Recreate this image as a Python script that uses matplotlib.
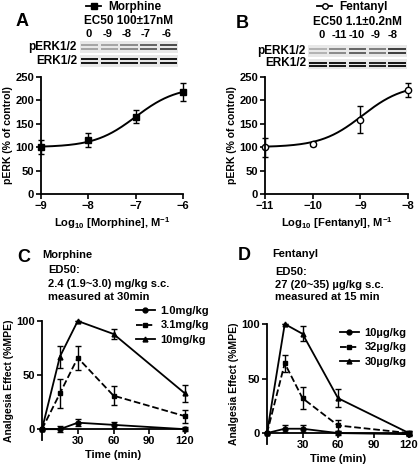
import numpy as np
import matplotlib.pyplot as plt
from matplotlib.lines import Line2D
from matplotlib.patches import Rectangle

plt.rcParams['font.family'] = ['Liberation Sans', 'DejaVu Sans']
plt.rcParams['font.weight'] = 'bold'
plt.rcParams['axes.labelweight'] = 'bold'
plt.rcParams['mathtext.fontset'] = 'custom'
plt.rcParams['mathtext.rm'] = 'Liberation Sans:bold'
plt.rcParams['mathtext.default'] = 'rm'

W, H = 420, 467

# --- panel A / B : pERK dose response ---
morph_logc = [-9, -8, -7, -6]
morph_perk = [100, 115, 165, 218]
morph_err = [15, 15, 14, 20]
morph_fit = (100, 230, -7.0)   # bottom, top, logEC50

fent_logc = [-11, -10, -9, -8]
fent_perk = [100, 106, 159, 222]
fent_err = [20, 4, 29, 15]
fent_fit = (100, 235, -8.96)

morph_lanes = ['0', '-9', '-8', '-7', '-6']
fent_lanes = ['0', '-11', '-10', '-9', '-8']
morph_pband = [0.35, 0.35, 0.45, 0.6, 0.7]
fent_pband = [0.3, 0.45, 0.6, 0.5, 0.75]
total_band = [0.9, 0.9, 0.9, 0.85, 0.9]

# --- panel C / D : analgesia time course ---
time_min = [0, 15, 30, 60, 120]
morph_doses = ['1.0mg/kg', '3.1mg/kg', '10mg/kg']
morph_mpe = [[0, 0, 6, 4, 0], [0, 33, 66, 31, 12], [0, 67, 100, 88, 33]]
morph_mpe_err = [[0, 3, 3, 3, 2], [0, 13, 11, 9, 6], [0, 10, 0, 5, 8]]
fent_doses = ['10µg/kg', '32µg/kg', '30µg/kg']
fent_mpe = [[0, 4, 4, 0, -1], [0, 64, 32, 7, 0], [0, 100, 91, 32, 0]]
fent_mpe_err = [[0, 3, 3, 2, 2], [0, 8, 10, 5, 2], [0, 0, 7, 8, 2]]

FS = 8


def px(x, y):
    return x / W, 1 - y / H


def rect(x0, y0, x1, y1):
    return [x0 / W, 1 - y1 / H, (x1 - x0) / W, (y1 - y0) / H]


def style_axes(ax):
    for s in ['top', 'right']:
        ax.spines[s].set_visible(False)
    for s in ['left', 'bottom']:
        ax.spines[s].set_linewidth(1.3)
    ax.tick_params(direction='out', length=3.5, width=1.2, labelsize=FS, pad=1.5)
    for t in ax.get_xticklabels() + ax.get_yticklabels():
        t.set_fontweight('bold')


def sigmoid(x, p):
    bottom, top, logec = p
    return bottom + (top - bottom) / (1 + 10 ** (logec - x))


def dose_panel(ax, logc, perk, err, fit, marker, mfc, drug):
    xs = np.linspace(logc[0], logc[-1], 200)
    ax.plot(xs, sigmoid(xs, fit), color='black', lw=1.4, clip_on=False)
    ax.errorbar(logc, perk, yerr=err, fmt=marker, color='black', mfc=mfc,
                ms=4.5, capsize=2.5, elinewidth=1, capthick=1, clip_on=False)
    ax.set_xlim(logc[0], logc[-1])
    ax.set_ylim(0, 250)
    ax.set_xticks(range(logc[0], logc[-1] + 1))
    ax.set_yticks([0, 50, 100, 150, 200, 250])
    ax.set_ylabel('pERK (% of control)', fontsize=FS - 0.5, labelpad=2)
    ax.set_xlabel('Log$_{10}$ [' + drug + '], M$^{-1}$', fontsize=FS, labelpad=3)
    style_axes(ax)


def blot(fig, box_p, box_t, pband):
    for (x0, y0, x1, y1), inten, thick, gap in [(box_p, pband, 1.3, 3.0),
                                               (box_t, total_band, 2.0, 3.0)]:
        bax = fig.add_axes(rect(x0, y0, x1, y1))
        bax.set_xlim(0, 5)
        bax.set_ylim(0, 10)
        bax.axis('off')
        bax.add_patch(Rectangle((0, 0), 5, 10, color='#e8e8e8', lw=0))
        for i, v in enumerate(inten):
            for yb in [5 + gap / 2, 5 - gap / 2]:
                bax.add_patch(Rectangle((i + 0.06, yb - thick / 2), 0.88, thick,
                                        color=str(1 - v), lw=0))


def time_panel(ax, mpe, err, doses):
    styles = [('o', '-'), ('s', '--'), ('^', '-')]
    handles = []
    for y, e, (m, ls), lab in zip(mpe, err, styles, doses):
        ax.errorbar(time_min, y, yerr=e, fmt=m, ls=ls, color='black',
                    ms=3.5, lw=1.3, capsize=2.5, elinewidth=1, capthick=1,
                    clip_on=False)
        handles.append(Line2D([], [], color='black', marker=m, ls=ls, ms=3.5,
                              lw=1.3, label=lab))
    ax.set_xlim(0, 120)
    ax.set_ylim(-10, 100)
    ax.set_xticks([30, 60, 90, 120])
    ax.set_yticks([0, 50, 100])
    ax.spines['bottom'].set_position(('data', 0))
    ax.set_ylabel('Analgesia Effect (%MPE)', fontsize=FS - 0.5, labelpad=2)
    ax.set_xlabel('Time (min)', fontsize=FS, labelpad=3)
    style_axes(ax)
    return handles


fig = plt.figure(figsize=(W / 100, H / 100), dpi=100)

# A
axA = fig.add_axes(rect(41, 77, 183, 194))
dose_panel(axA, morph_logc, morph_perk, morph_err, morph_fit, 's', 'black', 'Morphine')
fig.text(*px(16, 21), 'A', fontsize=13, fontweight='bold', va='center')
legA = Line2D([], [], color='black', marker='s', ms=4, lw=1.3)
fig.legend(handles=[legA], labels=['Morphine'], loc='center left',
           bbox_to_anchor=px(86, 7), frameon=False, fontsize=FS + 0.5,
           handlelength=1.3, handletextpad=0.6, borderpad=0, borderaxespad=0)
fig.text(*px(128, 21), 'EC50 100±17nM', fontsize=FS + 0.5, ha='center', va='center')
for x, lab in zip([89, 108, 127, 146, 167], morph_lanes):
    fig.text(*px(x, 34), lab, fontsize=FS, ha='center', va='center')
blot(fig, (80, 41, 178, 53), (80, 55, 178, 67), morph_pband)
fig.text(*px(77, 47), 'pERK1/2', fontsize=FS + 0.5, ha='right', va='center')
fig.text(*px(77, 61), 'ERK1/2', fontsize=FS + 0.5, ha='right', va='center')

# B
axB = fig.add_axes(rect(265, 77, 408, 194))
dose_panel(axB, fent_logc, fent_perk, fent_err, fent_fit, 'o', 'white', 'Fentanyl')
fig.text(*px(236, 23), 'B', fontsize=13, fontweight='bold', va='center')
legB = Line2D([], [], color='black', marker='o', mfc='white', ms=4, lw=1.3)
fig.legend(handles=[legB], labels=['Fentanyl'], loc='center left',
           bbox_to_anchor=px(317, 7), frameon=False, fontsize=FS + 0.5,
           handlelength=1.3, handletextpad=0.6, borderpad=0, borderaxespad=0)
fig.text(*px(357, 22), 'EC50 1.1±0.2nM', fontsize=FS + 0.5, ha='center', va='center')
for x, lab in zip([322, 339, 357, 376, 393], fent_lanes):
    fig.text(*px(x, 35), lab, fontsize=FS, ha='center', va='center')
blot(fig, (308, 45, 407, 57), (308, 59, 407, 69), fent_pband)
fig.text(*px(306, 51), 'pERK1/2', fontsize=FS + 0.5, ha='right', va='center')
fig.text(*px(306, 63), 'ERK1/2', fontsize=FS + 0.5, ha='right', va='center')

# C
axC = fig.add_axes(rect(42, 321, 185, 440))
hC = time_panel(axC, morph_mpe, morph_mpe_err, morph_doses)
fig.text(*px(17, 258), 'C', fontsize=13, fontweight='bold', va='center')
fig.text(*px(42, 255), 'Morphine', fontsize=FS, va='center')
fig.text(*px(48, 270), 'ED50:', fontsize=FS, va='center')
fig.text(*px(48, 284), '2.4 (1.9~3.0) mg/kg s.c.', fontsize=FS, va='center')
fig.text(*px(48, 297), 'measured at 30min', fontsize=FS, va='center')
axC.legend(handles=hC, loc='upper left', bbox_to_anchor=px(136, 306),
           bbox_transform=fig.transFigure, frameon=False, fontsize=FS,
           handlelength=1.7, handletextpad=0.5, labelspacing=0.4,
           borderpad=0, borderaxespad=0)

# D
axD = fig.add_axes(rect(267, 324, 409, 444))
hD = time_panel(axD, fent_mpe, fent_mpe_err, fent_doses)
fig.text(*px(238, 255), 'D', fontsize=13, fontweight='bold', va='center')
fig.text(*px(272, 254), 'Fentanyl', fontsize=FS, va='center')
fig.text(*px(275, 272), 'ED50:', fontsize=FS, va='center')
fig.text(*px(275, 285), '27 (20~35) µg/kg s.c.', fontsize=FS, va='center')
fig.text(*px(275, 297), 'measured at 15 min', fontsize=FS, va='center')
axD.legend(handles=hD, loc='upper left', bbox_to_anchor=px(340, 328),
           bbox_transform=fig.transFigure, frameon=False, fontsize=FS,
           handlelength=1.7, handletextpad=0.5, labelspacing=0.4,
           borderpad=0, borderaxespad=0)

fig.savefig('out.png', dpi=100)
